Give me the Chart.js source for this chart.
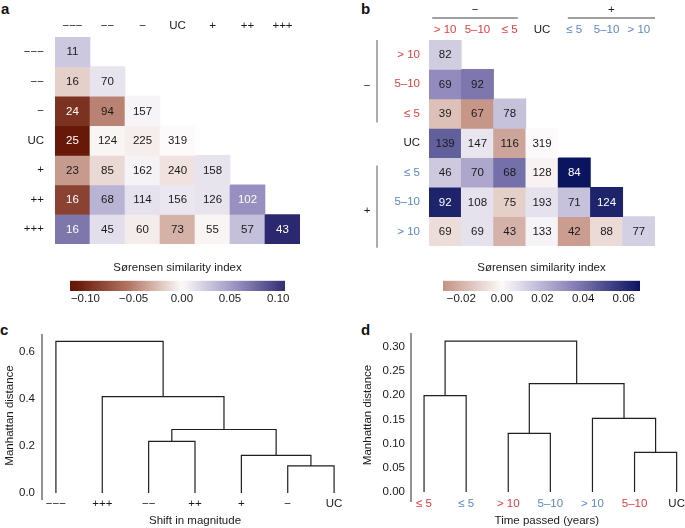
<!DOCTYPE html>
<html>
<head>
<meta charset="utf-8">
<script src="https://cdn.jsdelivr.net/npm/chart.js@4.4.1/dist/chart.umd.min.js"></script>
<style>
  body { margin: 0; background: #fff; width: 685px; height: 528px; position: relative; overflow: hidden; }
  canvas { position: absolute; }
  .tag { position: absolute; font: bold 15px 'Liberation Sans', Arial, sans-serif; line-height: 15px; color: #111; }
</style>
</head>
<body>
<div class="tag" style="left:1px;top:1px">a</div>
<div class="tag" style="left:361px;top:1px">b</div>
<div class="tag" style="left:0px;top:322px">c</div>
<div class="tag" style="left:361px;top:322px">d</div>

<canvas id="heat-a" width="330" height="262" style="left:0;top:0"></canvas>
<canvas id="bar-a" width="290" height="52" style="left:40px;top:258px"></canvas>
<canvas id="heat-b" width="355" height="262" style="left:330px;top:0"></canvas>
<canvas id="bar-b" width="285" height="52" style="left:400px;top:258px"></canvas>
<canvas id="dend-c" width="352" height="208" style="left:0;top:320px"></canvas>
<canvas id="dend-d" width="345" height="208" style="left:340px;top:320px"></canvas>

<script>
/* ============================================================
   Sørensen similarity heatmaps (a, b) + dendrograms (c, d)
   ============================================================ */

Chart.defaults.font.family = "'Liberation Sans', Arial, Helvetica, sans-serif";
Chart.defaults.font.size = 11.5;
Chart.defaults.color = '#1a1a1a';

// ─── Data: shift in magnitude ───────────────────────────────
const MAG_LABELS = ['−−−', '−−', '−', 'UC', '+', '++', '+++'];
const MAG_COUNTS = [
  [11],
  [16, 70],
  [24, 94, 157],
  [25, 124, 225, 319],
  [23, 85, 162, 240, 158],
  [16, 68, 114, 156, 126, 102],
  [16, 45, 60, 73, 55, 57, 43]
];
const MAG_SIM = [
  [0.027],
  [-0.018, 0.012],
  [-0.095, -0.050, 0.003],
  [-0.112, -0.002, -0.005, 0.000],
  [-0.040, -0.014, 0.004, -0.010, 0.012],
  [-0.085, 0.038, 0.013, 0.010, 0.012, 0.057],
  [0.070, 0.015, -0.006, -0.030, -0.002, 0.032, 0.110]
];
const MAG_TICKS = [-0.10, -0.05, 0, 0.05, 0.10];

// ─── Data: time passed ──────────────────────────────────────
const TIME_LABELS = ['> 10', '5–10', '≤ 5', 'UC', '≤ 5', '5–10', '> 10'];
const TIME_GROUP = ['neg', 'neg', 'neg', 'uc', 'pos', 'pos', 'pos'];
const TIME_COUNTS = [
  [82],
  [69, 92],
  [39, 67, 78],
  [139, 147, 116, 319],
  [46, 70, 68, 128, 84],
  [92, 108, 75, 193, 71, 124],
  [69, 69, 43, 133, 42, 88, 77]
];
const TIME_SIM = [
  [0.013],
  [0.032, 0.038],
  [-0.016, -0.028, 0.016],
  [0.045, 0.006, -0.024, 0.000],
  [0.014, 0.024, 0.040, -0.002, 0.068],
  [0.063, 0.007, -0.012, 0.007, 0.016, 0.063],
  [-0.008, 0.007, -0.020, 0.002, -0.026, -0.009, 0.012]
];
const TIME_TICKS = [-0.02, 0, 0.02, 0.04, 0.06];

// ─── Data: dendrograms (linkage rows: left, right, height) ──
const MAG_LEAVES = ['−−−', '+++', '−−', '++', '+', '−', 'UC'];
const MAG_LINKAGE = [[5, 6, 0.115], [4, 7, 0.16], [2, 3, 0.22], [9, 8, 0.27], [1, 10, 0.41], [0, 11, 0.645]];
const MAG_DIST_TICKS = [0, 0.2, 0.4, 0.6];

const TIME_LEAVES = ['≤ 5', '≤ 5', '> 10', '5–10', '> 10', '5–10', 'UC'];
const TIME_LEAF_GROUP = ['neg', 'pos', 'neg', 'pos', 'pos', 'neg', 'uc'];
const TIME_LINKAGE = [[0, 1, 0.199], [2, 3, 0.121], [5, 6, 0.082], [4, 9, 0.152], [8, 10, 0.224], [7, 11, 0.312]];
const TIME_DIST_TICKS = [0, 0.05, 0.10, 0.15, 0.20, 0.25, 0.30];

const GROUP_COLORS = { neg: '#e23c40', uc: '#1a1a1a', pos: '#5b87c5' };

// ─── Colour maps ────────────────────────────────────────────
function makeCmap(max, stops) {
  // stops: colours at t = -1, -0.5, 0, 0.5, 1
  return v => {
    const t = Math.max(-1, Math.min(1, v / max));
    const p = (t + 1) * 2;
    const i = Math.min(3, Math.floor(p));
    const f = p - i;
    const a = stops[i], b = stops[i + 1];
    const c = a.map((x, k) => Math.round(x + (b[k] - x) * f));
    return `rgb(${c[0]},${c[1]},${c[2]})`;
  };
}
const cmapMag = makeCmap(0.11, [[104, 24, 8], [178, 118, 100], [252, 250, 250], [155, 148, 195], [44, 40, 112]]);
const cmapTime = makeCmap(0.068, [[125, 45, 30], [186, 128, 112], [252, 250, 250], [140, 132, 185], [10, 20, 95]]);

const fmt = (v, d) => (v < -1e-9 ? '−' : '') + Math.abs(v).toFixed(d);

// ─── Plugins ────────────────────────────────────────────────
const cellText = {
  id: 'cellText',
  afterDatasetsDraw(chart, args, o) {
    const ctx = chart.ctx;
    ctx.save();
    ctx.font = "11.5px 'Liberation Sans', Arial, sans-serif";
    ctx.textAlign = 'center';
    ctx.textBaseline = 'middle';
    chart.data.datasets.forEach((ds, r) => {
      chart.getDatasetMeta(r).data.forEach((el, c) => {
        if (c >= ds.counts.length) return;
        ctx.fillStyle = Math.abs(ds.sims[c]) / o.max > o.light ? '#fff' : '#1a1a1a';
        ctx.fillText(ds.counts[c], el.x, (el.y + el.base) / 2 + 0.5);
      });
    });
    ctx.restore();
  }
};

const groupMarks = {
  id: 'groupMarks',
  afterDraw(chart) {
    const { ctx, chartArea, scales: { x, y } } = chart;
    ctx.save();
    ctx.strokeStyle = '#808080';
    ctx.lineWidth = 1.3;
    ctx.fillStyle = '#1a1a1a';
    ctx.font = "11.5px 'Liberation Sans', Arial, sans-serif";
    ctx.textAlign = 'center';
    ctx.textBaseline = 'middle';
    [[-0.4, 2.25, '−'], [3.8, 6.5, '+']].forEach(([a, b, t]) => {
      const x0 = x.getPixelForValue(a), x1 = x.getPixelForValue(b);
      const ly = chartArea.top - 22;
      ctx.beginPath(); ctx.moveTo(x0, ly); ctx.lineTo(x1, ly); ctx.stroke();
      ctx.fillText(t, (x0 + x1) / 2, ly - 8);
    });
    const bx = chartArea.left - 52;
    [[-0.5, 2.3, 1.05, '−'], [3.76, 6.56, 5.3, '+']].forEach(([a, b, m, t]) => {
      ctx.beginPath(); ctx.moveTo(bx, y.getPixelForValue(a)); ctx.lineTo(bx, y.getPixelForValue(b)); ctx.stroke();
      ctx.fillText(t, bx - 10, y.getPixelForValue(m));
    });
    ctx.restore();
  }
};

const gradientFill = {
  id: 'gradientFill',
  beforeDatasetsDraw(chart, args, o) {
    const { ctx, chartArea: a, scales: { x } } = chart;
    const g = ctx.createLinearGradient(a.left, 0, a.right, 0);
    for (let k = 0; k <= 60; k++) {
      const v = x.min + (x.max - x.min) * k / 60;
      g.addColorStop(k / 60, o.cmap(v));
    }
    ctx.save();
    ctx.fillStyle = g;
    ctx.fillRect(a.left, a.top, a.right - a.left, a.bottom - a.top);
    ctx.restore();
  }
};

// y axis line that runs a little below the plot area, like the original
const axisLine = {
  id: 'axisLine',
  afterDraw(chart, args, o) {
    const { ctx, chartArea, scales: { y } } = chart;
    ctx.save();
    ctx.strokeStyle = '#6e6e6e';
    ctx.lineWidth = 1.5;
    ctx.beginPath();
    ctx.moveTo(chartArea.left, chartArea.top);
    ctx.lineTo(chartArea.left, y.getPixelForValue(o.to));
    ctx.stroke();
    ctx.restore();
  }
};

// ─── Builders ───────────────────────────────────────────────
function heatmap(id, labels, counts, sims, cmap, o) {
  const tickColor = o.groups ? (c => GROUP_COLORS[o.groups[c.index]]) : '#1a1a1a';
  const datasets = counts.map((row, r) => ({
    data: labels.map((_, c) => c < row.length ? [r - 0.5, r + 0.5] : null),
    backgroundColor: labels.map((_, c) => c < row.length ? cmap(sims[r][c]) : 'transparent'),
    counts: row,
    sims: sims[r],
    grouped: false,
    barPercentage: 1,
    categoryPercentage: 1,
    borderWidth: 0
  }));
  return new Chart(document.getElementById(id), {
    type: 'bar',
    data: { labels, datasets },
    options: {
      responsive: false, animation: false, events: [],
      layout: { autoPadding: false, padding: { left: 0, top: 0, right: o.padRight, bottom: o.padBottom } },
      plugins: { legend: { display: false }, tooltip: { enabled: false }, cellText: { max: o.max, light: o.light } },
      scales: {
        x: {
          position: 'top',
          grid: { display: false, drawTicks: false },
          border: { display: false },
          ticks: { padding: o.xPad, color: tickColor, autoSkip: false, maxRotation: 0 },
          afterFit: s => { s.height = o.top; }
        },
        y: {
          type: 'linear', reverse: true, min: -0.5, max: 6.5,
          grid: { display: false, drawTicks: false },
          border: { display: false },
          afterBuildTicks: s => { s.ticks = labels.map((_, i) => ({ value: i })); },
          ticks: { padding: o.yPad, color: tickColor, callback: v => labels[v] },
          afterFit: s => { s.width = o.left; }
        }
      }
    },
    plugins: o.extra ? [cellText, o.extra] : [cellText]
  });
}

function colorbar(id, min, max, ticks, cmap, padL, padR) {
  return new Chart(document.getElementById(id), {
    type: 'scatter',
    data: { datasets: [] },
    options: {
      responsive: false, animation: false, events: [],
      layout: { autoPadding: false, padding: { left: padL, right: padR, top: 0, bottom: 0 } },
      plugins: {
        legend: { display: false }, tooltip: { enabled: false },
        title: { display: true, text: 'Sørensen similarity index', color: '#1a1a1a',
                 font: { size: 11.5, weight: 'normal' }, padding: { top: 3, bottom: 6 } },
        gradientFill: { cmap }
      },
      scales: {
        x: {
          type: 'linear', min, max,
          grid: { display: false, drawTicks: false },
          border: { display: false },
          afterBuildTicks: s => { s.ticks = ticks.map(v => ({ value: v })); },
          ticks: { padding: 1, callback: v => fmt(v, 2) },
          afterFit: s => { s.height = 19; }
        },
        y: { display: false, min: 0, max: 1 }
      }
    },
    plugins: [gradientFill]
  });
}

function dendrogram(id, leaves, linkage, distTicks, o) {
  const nodes = leaves.map((_, i) => ({ x: i, h: 0 }));
  const datasets = linkage.map(([a, b, h]) => {
    const l = nodes[a], r = nodes[b];
    nodes.push({ x: (l.x + r.x) / 2, h });
    return {
      data: [{ x: l.x, y: l.h }, { x: l.x, y: h }, { x: r.x, y: h }, { x: r.x, y: r.h }],
      showLine: true, pointRadius: 0, borderColor: '#1f1f1f', borderWidth: 1.2, tension: 0, fill: false
    };
  });
  const tickColor = o.groups ? (c => GROUP_COLORS[o.groups[c.index]]) : '#1a1a1a';
  return new Chart(document.getElementById(id), {
    type: 'scatter',
    data: { datasets },
    options: {
      responsive: false, animation: false, events: [],
      layout: { autoPadding: false, padding: { left: 0, top: o.padTop, right: o.padRight, bottom: 0 } },
      plugins: { legend: { display: false }, tooltip: { enabled: false }, axisLine: { to: o.lineTo } },
      scales: {
        x: {
          type: 'linear', min: o.xMin, max: o.xMax,
          grid: { display: false, drawTicks: false },
          border: { display: false },
          afterBuildTicks: s => { s.ticks = leaves.map((_, i) => ({ value: i })); },
          ticks: { padding: o.xPad, color: tickColor, autoSkip: false, maxRotation: 0, callback: v => leaves[v] },
          title: { display: true, text: o.xTitle, font: { size: 11.5 }, padding: { top: 0, bottom: 0 } },
          afterFit: s => { s.height = o.bottom; }
        },
        y: {
          type: 'linear', min: o.yMin, max: o.yMax,
          grid: { display: false, drawTicks: false },
          border: { display: false },
          afterBuildTicks: s => { s.ticks = distTicks.map(v => ({ value: v })); },
          ticks: { padding: o.yPad, callback: v => v.toFixed(o.dec) },
          title: { display: true, text: 'Manhattan distance', font: { size: 11.5 }, padding: { top: o.titlePad, bottom: 0 } },
          afterFit: s => { s.width = o.left; }
        }
      }
    },
    plugins: [axisLine]
  });
}

// ─── Init ───────────────────────────────────────────────────
heatmap('heat-a', MAG_LABELS, MAG_COUNTS, MAG_SIM, cmapMag,
  { max: 0.11, light: 0.5, left: 55, top: 37, padRight: 30, padBottom: 6, xPad: 4, yPad: 11 });
colorbar('bar-a', -0.116, 0.107, MAG_TICKS, cmapMag, 30, 45);

heatmap('heat-b', TIME_LABELS, TIME_COUNTS, TIME_SIM, cmapTime,
  { max: 0.068, light: 0.8, left: 99, top: 40, padRight: 30, padBottom: 5, xPad: 3, yPad: 9,
    groups: TIME_GROUP, extra: groupMarks });
colorbar('bar-b', -0.029, 0.068, TIME_TICKS, cmapTime, 43, 45);

dendrogram('dend-c', MAG_LEAVES, MAG_LINKAGE, MAG_DIST_TICKS,
  { xMin: -0.3, xMax: 6.3, yMin: -0.0169, yMax: 0.6765, lineTo: -0.0296, left: 42, bottom: 31, padTop: 13, padRight: 4,
    xPad: 0, yPad: 7, titlePad: 3, dec: 1, xTitle: 'Shift in magnitude' });
dendrogram('dend-d', TIME_LEAVES, TIME_LINKAGE, TIME_DIST_TICKS,
  { xMin: -0.31, xMax: 6.14, yMin: -0.0103, yMax: 0.3288, lineTo: -0.0205, left: 71, bottom: 31, padTop: 12, padRight: 2,
    xPad: 0, yPad: 6, titlePad: 21, dec: 2, xTitle: 'Time passed (years)', groups: TIME_LEAF_GROUP });
</script>
</body>
</html>
